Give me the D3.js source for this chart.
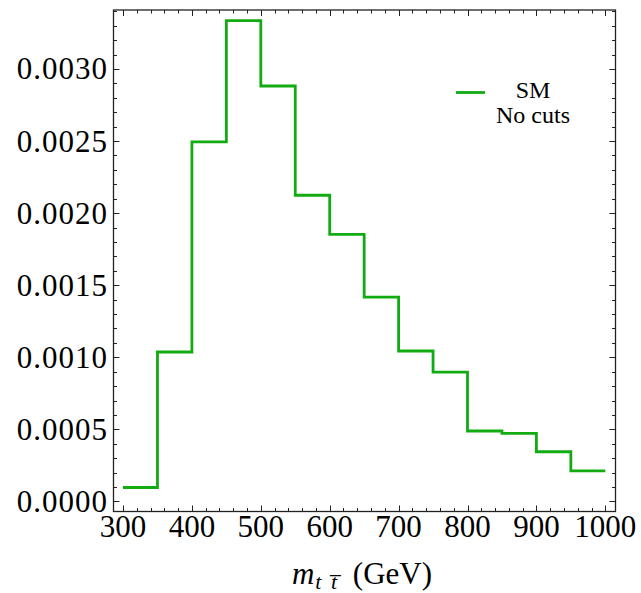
<!DOCTYPE html>
<html lang="en">
<head>
<meta charset="utf-8">
<title>m_tt histogram</title>
<script src="https://cdn.jsdelivr.net/npm/d3@7"></script>
<style>
body { margin: 0; background: #fff; }
svg text { font-family: "Liberation Serif", "DejaVu Serif", serif; fill: #000; }
</style>
</head>
<body>
<script>
// bin lower edges (GeV) and heights
var binStarts = [300, 350, 400, 450, 500, 550, 600, 650, 700, 750, 800, 850, 900, 950];
var binEnd = 1000;
var binValues = [0.000097, 0.001037, 0.002494, 0.003335, 0.002882, 0.002124, 0.001853,
                 0.001418, 0.001044, 0.000898, 0.000489, 0.000473, 0.000345, 0.000212];
var xTicks = [300, 400, 500, 600, 700, 800, 900, 1000];
var yTicks = [0, 0.0005, 0.0010, 0.0015, 0.0020, 0.0025, 0.0030];
var legendLabels = ["SM", "No cuts"];

var W = 641, H = 593;
// plot frame (note: "top" is reserved on window, so use frame*)
var frameL = 113.5, frameR = 615.5, frameT = 10, frameB = 511.5;
var green = "#12ab12";

var svg = d3.select("body").append("svg")
  .attr("width", W).attr("height", H);

var x = d3.scaleLinear().domain([286.2, 1014.8]).range([frameL, frameR]);
var y = d3.scaleLinear().domain([-0.0000694, 0.003409]).range([frameB, frameT]);

// minor tick positions
var xMinor = d3.range(300, 1001, 20);
var yMinor = d3.range(0, 35).map(function(i) { return i * 0.0001; });

function isMajor(v, list) {
  return list.some(function(t) { return Math.abs(t - v) < 1e-9; });
}

var ticks = svg.append("g").attr("stroke", "#222").attr("stroke-width", 1);

xMinor.forEach(function(v) {
  var len = isMajor(v, xTicks) ? 6 : 3.5;
  var px = Math.round(x(v)) + 0.5;
  ticks.append("line").attr("x1", px).attr("x2", px).attr("y1", frameB).attr("y2", frameB - len);
  ticks.append("line").attr("x1", px).attr("x2", px).attr("y1", frameT).attr("y2", frameT + len);
});
yMinor.forEach(function(v) {
  var len = isMajor(v, yTicks) ? 6 : 3.5;
  var py = Math.round(y(v)) + 0.5;
  ticks.append("line").attr("x1", frameL).attr("x2", frameL + len).attr("y1", py).attr("y2", py);
  ticks.append("line").attr("x1", frameR).attr("x2", frameR - len).attr("y1", py).attr("y2", py);
});

// frame
svg.append("rect")
  .attr("x", frameL).attr("y", frameT)
  .attr("width", frameR - frameL).attr("height", frameB - frameT)
  .attr("fill", "none").attr("stroke", "#222").attr("stroke-width", 1.3);

// tick labels
svg.append("g").selectAll("text")
  .data(xTicks).enter().append("text")
  .attr("x", function(d) { return x(d); })
  .attr("y", 537)
  .attr("text-anchor", "middle")
  .style("font-size", "31px")
  .text(function(d) { return d; });

svg.append("g").selectAll("text")
  .data(yTicks).enter().append("text")
  .attr("x", 108)
  .attr("y", function(d) { return y(d) + 10.5; })
  .attr("text-anchor", "end")
  .style("font-size", "31px")
  .style("letter-spacing", "1px")
  .text(d3.format(".4f"));

// axis title
var title = svg.append("text")
  .attr("x", 362).attr("y", 584)
  .attr("text-anchor", "middle")
  .style("font-size", "31px");
title.append("tspan").style("font-style", "italic").text("m");
title.append("tspan").attr("dy", 5).attr("dx", 1).style("font-style", "italic")
  .style("font-size", "22px").style("letter-spacing", "2px").text("t t\u0305");
title.append("tspan").attr("dy", -5).attr("dx", 6).text(" (GeV)");

// histogram step line
var pts = binStarts.map(function(s, i) { return [s, binValues[i]]; });
pts.push([binEnd, binValues[binValues.length - 1]]);

var line = d3.line()
  .x(function(d) { return x(d[0]); })
  .y(function(d) { return y(d[1]); })
  .curve(d3.curveStepAfter);

svg.append("path")
  .datum(pts)
  .attr("d", line)
  .attr("fill", "none")
  .attr("stroke", green)
  .attr("stroke-width", 2.8)
  .attr("stroke-linejoin", "miter");

// legend
svg.append("line")
  .attr("x1", 456).attr("x2", 485).attr("y1", 92.5).attr("y2", 92.5)
  .attr("stroke", green).attr("stroke-width", 2.8);
svg.append("g").selectAll("text")
  .data(legendLabels).enter().append("text")
  .attr("x", 533)
  .attr("y", function(d, i) { return 98 + i * 25; })
  .attr("text-anchor", "middle")
  .style("font-size", "24px")
  .text(String);
</script>
</body>
</html>
